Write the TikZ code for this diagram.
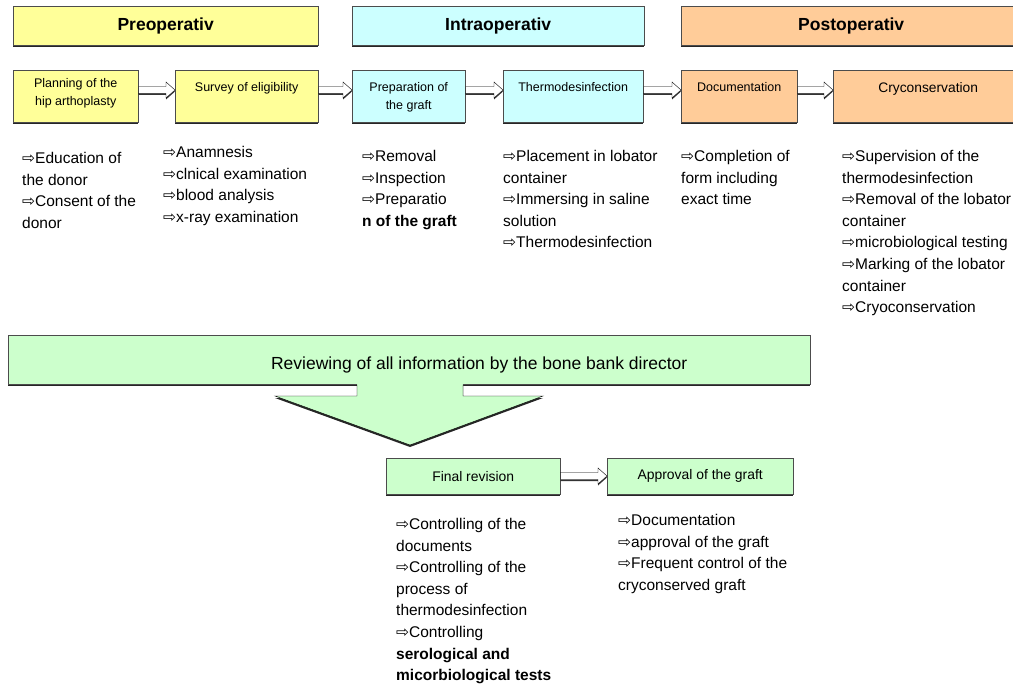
\documentclass[tikz,border=0pt]{standalone}
\usepackage{fontspec}
\setmainfont{Liberation Sans}
\newfontfamily\arrowfont{DejaVu Sans}[Scale=1.0]
\usetikzlibrary{shadows,calc}

\definecolor{preyellow}{HTML}{FFFF99}
\definecolor{intracyan}{HTML}{CCFFFF}
\definecolor{postpeach}{HTML}{FFCC99}
\definecolor{revgreen}{HTML}{CCFFCC}

% small hollow arrow in front of each item
\newcommand{\ia}{{\arrowfont ⇨}}

% hollow block arrow between two boxes, #3 = depth below box top
\newcommand{\hollowarrow}[3]{%
  \path[harrow] let \p1=(#1.north east), \p2=(#2.north west) in
    (\x1,\y1-#3pt+3.5pt) -- (\x2-9pt,\y1-#3pt+3.5pt) -- (\x2-9pt,\y1-#3pt+8pt)
    -- (\x2,\y1-#3pt) -- (\x2-9pt,\y1-#3pt-8pt) -- (\x2-9pt,\y1-#3pt-3.5pt)
    -- (\x1,\y1-#3pt-3.5pt) -- cycle;}

\tikzset{
  shade/.style={drop shadow={shadow xshift=0pt,shadow yshift=-2pt,opacity=1,fill=black!85}},
  phase/.style={draw=black!70,thin,anchor=north west,inner sep=0pt,minimum height=39pt,
    font=\bfseries\fontsize{17.5}{20}\selectfont,shade},
  stepbox/.style={draw=black!70,thin,anchor=north west,inner sep=0pt,minimum height=52pt,shade},
  lblfont/.style={anchor=north,yshift=-12pt,align=center,inner sep=0pt,
    font=\fontsize{12.5}{18.5}\selectfont},
  steplbl/.style={label={[lblfont]north:#1}},
  endbox/.style={draw=black!70,thin,anchor=north west,inner sep=0pt,minimum height=36pt,
    fill=revgreen,font=\fontsize{13.9}{16}\selectfont,shade},
  lst/.style={anchor=north west,align=left,inner sep=0pt,font=\fontsize{15.5}{21.6}\selectfont},
  harrow/.style={draw=black,thin,fill=white,
    drop shadow={shadow xshift=0pt,shadow yshift=-1.5pt,opacity=1,fill=black!80}}
}

\begin{document}
\begin{tikzpicture}[x=1pt,y=-1pt]
  \useasboundingbox (0,0) rectangle (1013,690);

  % Phase headers
  \node[phase,fill=preyellow,minimum width=305pt] (pre) at (13,6) {Preoperativ};
  \node[phase,fill=intracyan,minimum width=292pt] (intra) at (352,6) {Intraoperativ};
  \node[phase,fill=postpeach,minimum width=340pt] (post) at (681,6) {Postoperativ};

  % Steps
  \node[stepbox,fill=preyellow,minimum width=125pt,
    label={[lblfont,yshift=4pt]north:Planning of the\\hip arthoplasty}] (plan) at (13,70) {};
  \node[stepbox,fill=preyellow,minimum width=143pt,
    steplbl={Survey of eligibility}] (survey) at (175,70) {};
  \node[stepbox,fill=intracyan,minimum width=113pt,
    steplbl={Preparation of\\the graft}] (prep) at (352,70) {};
  \node[stepbox,fill=intracyan,minimum width=140pt,
    steplbl={Thermodesinfection}] (thermo) at (503,70) {};
  \node[stepbox,fill=postpeach,minimum width=116pt,
    steplbl={Documentation}] (docu) at (681,70) {};
  \node[stepbox,fill=postpeach,minimum width=240pt,
    label={[lblfont,xshift=-25pt,font=\fontsize{13.8}{18}\selectfont]north:Cryconservation}] (cryo) at (833,70) {};

  \hollowarrow{plan}{survey}{20}
  \hollowarrow{survey}{prep}{20}
  \hollowarrow{prep}{thermo}{20}
  \hollowarrow{thermo}{docu}{20}
  \hollowarrow{docu}{cryo}{20}

  % Item lists
  \node[lst] (planlist) at (22,152) {\ia Education of\\the donor\\\ia Consent of the\\donor};
  \node[lst] (surveylist) at (163,146) {\ia Anamnesis\\\ia clnical examination\\\ia blood analysis\\\ia x-ray examination};
  \node[lst] (preplist) at (362,150) {\ia Removal\\\ia Inspection\\\ia Preparatio\\\textbf{n of the graft}};
  \node[lst] (thermolist) at (503,150) {\ia Placement in lobator\\container\\\ia Immersing in saline\\solution\\\ia Thermodesinfection};
  \node[lst] (doculist) at (681,150) {\ia Completion of\\form including\\exact time};
  \node[lst] (cryolist) at (842,150) {\ia Supervision of the\\thermodesinfection\\\ia Removal of the lobator\\container\\\ia microbiological testing\\\ia Marking of the lobator\\container\\\ia Cryoconservation};

  % Review by the director
  \node[draw=black!70,thin,anchor=north west,inner sep=0pt,fill=revgreen,shade,
    minimum width=802pt,minimum height=49pt,
    label={[xshift=70pt,yshift=-5.5pt,font=\fontsize{17.5}{20}\selectfont]center:Reviewing of all information by the bone bank director}] (review) at (8,335) {};

  \fill[revgreen,drop shadow={shadow xshift=0pt,shadow yshift=-2pt,opacity=1,fill=black!85}]
    (357,382) -- (357,396) -- (275,396) -- (410,445) -- (543,396) -- (463,396) -- (463,382) -- cycle;
  \draw[thin] (357,384.5) -- (357,396) -- (275,396) -- (410,445) -- (543,396) -- (463,396) -- (463,384.5);

  % Final steps
  \node[endbox,minimum width=174pt] (final) at (386,458) {Final revision};
  \node[endbox,minimum width=186pt] (approve) at (607,458) {Approval of the graft};
  \hollowarrow{final}{approve}{18}

  \node[lst] (finallist) at (396,518) {\ia Controlling of the\\documents\\\ia Controlling of the\\process of\\thermodesinfection\\\ia Controlling\\\textbf{serological and}\\\textbf{micorbiological tests}};
  \node[lst] (approvelist) at (618,514) {\ia Documentation\\\ia approval of the graft\\\ia Frequent control of the\\cryconserved graft};
\end{tikzpicture}
\end{document}
